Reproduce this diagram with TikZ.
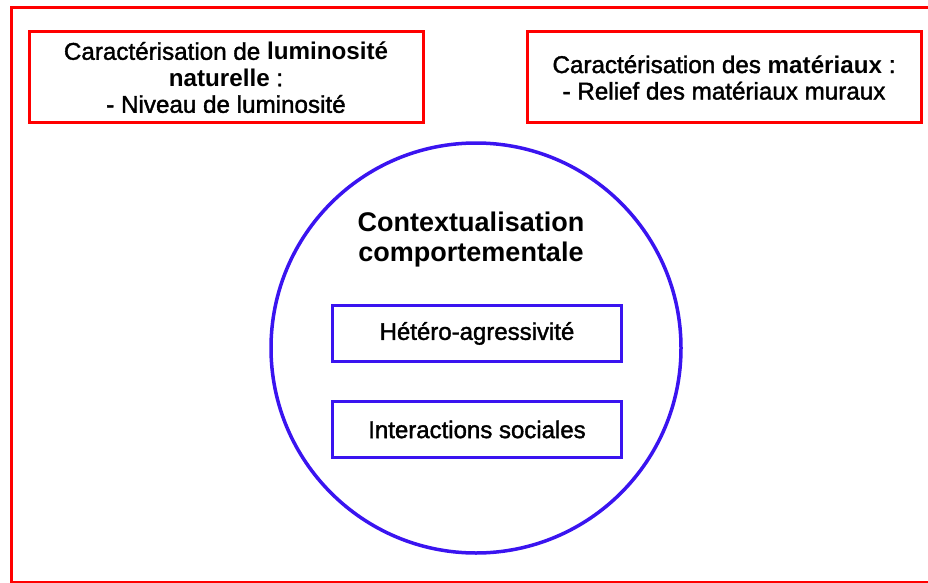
\documentclass[tikz,border=0pt]{standalone}
\usepackage{fontspec}
\setmainfont{Liberation Sans}[UprightFeatures={FakeBold=1.6}]
\usepackage{xcolor}
\usetikzlibrary{positioning}
\definecolor{framered}{HTML}{FF0000}
\definecolor{ringblue}{HTML}{3A14F0}

\begin{document}
\begin{tikzpicture}[
  x=1pt,y=-1pt,
  redbox/.style={draw=framered,line width=3pt,minimum width=394pt,
                 minimum height=91pt,align=center,inner sep=0pt,
                 font=\fontsize{24.2}{26.5}\selectfont},
  inbox/.style={draw=ringblue,line width=3pt,minimum width=289pt,
                minimum height=56pt,align=center,inner sep=0pt,
                font=\fontsize{24}{26}\selectfont},
  ring/.style={draw=ringblue,line width=3.5pt,circle,minimum size=410pt,
               inner sep=0pt}
]
\useasboundingbox (0,0) rectangle (928,583);
% outer frame, cut on the right
\draw[framered,line width=3pt] (11,8) rectangle (940,582);

\node[redbox] (lum) at (226,77.5)
  {Caractérisation de \textbf{luminosité}\\\textbf{naturelle} :\\- Niveau de luminosité};
\node[redbox,right=101pt of lum] (mat)
  {Caractérisation des \textbf{matériaux} :\\- Relief des matériaux muraux};

\node[ring] (ctx) at (476,348) {};
\node[align=center,font=\bfseries\fontsize{27}{30}\selectfont] (title) at (471,240)
  {Contextualisation\\comportementale};

\node[inbox] (hetero) at (477,333.5) {Hétéro-agressivité};
\node[inbox,below=37pt of hetero] (inter) {Interactions sociales};
\end{tikzpicture}
\end{document}
